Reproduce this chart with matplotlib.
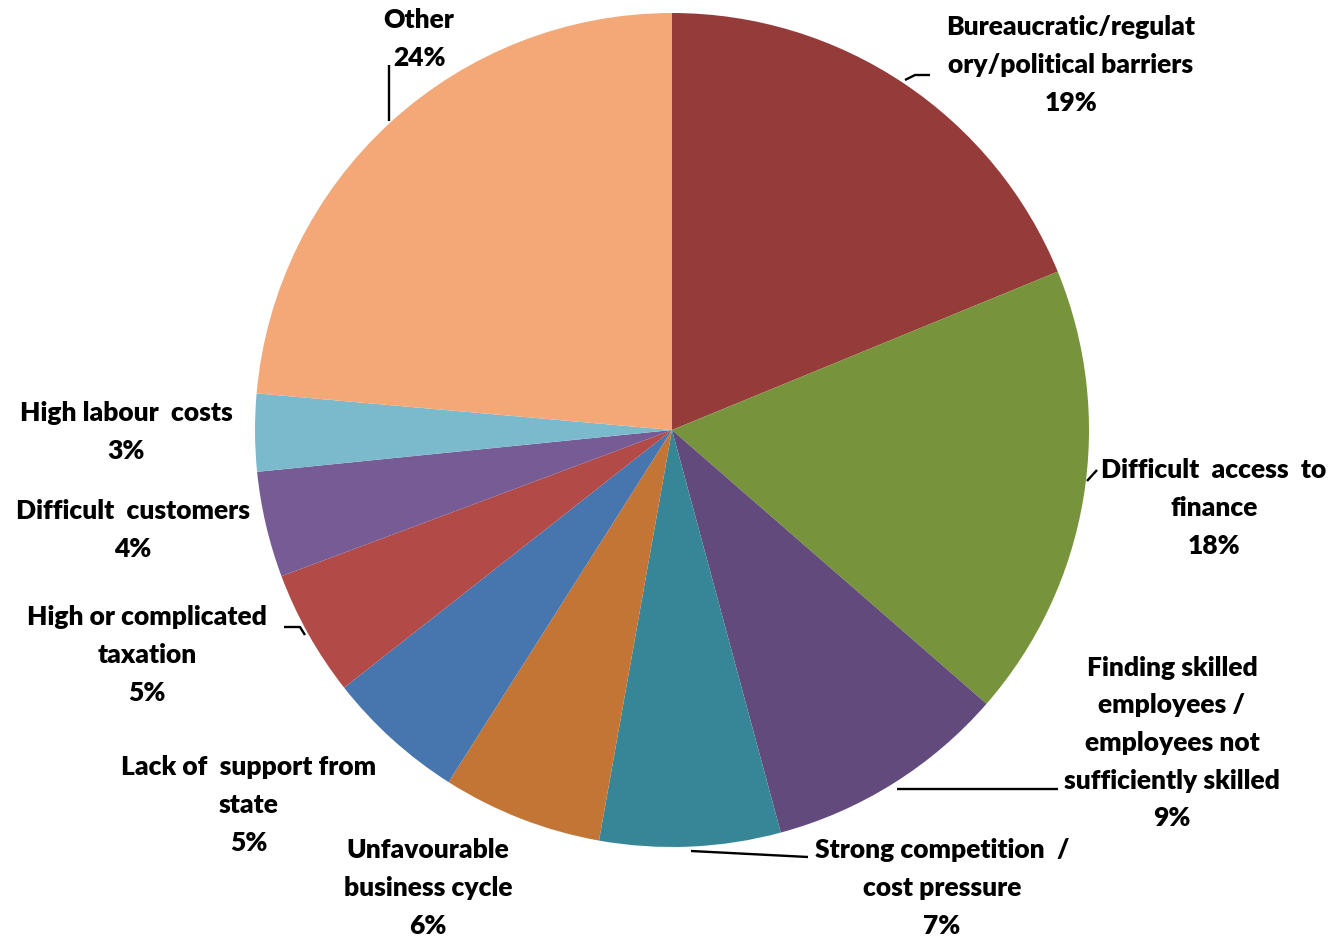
import matplotlib
matplotlib.use("Agg")
import matplotlib.pyplot as plt

# ---- data ----
categories = [
    "Bureaucratic/regulat\nory/political barriers",
    "Difficult  access  to\nfinance",
    "Finding skilled\nemployees /\nemployees not\nsufficiently skilled",
    "Strong competition  /\ncost pressure",
    "Unfavourable\nbusiness cycle",
    "Lack of  support from\nstate",
    "High or complicated\ntaxation",
    "Difficult  customers",
    "High labour  costs",
    "Other",
]
values = [18.8, 17.6, 9.4, 7.0, 6.2, 5.4, 4.9, 4.1, 3.0, 23.6]
colors = ["#953C3B", "#77933C", "#624B7C", "#378698", "#C37535",
          "#4775AD", "#B24A48", "#775B95", "#7BBACD", "#F4A878"]

W, H = 1328, 937
fig = plt.figure(figsize=(W / 100, H / 100), dpi=100)
ax = fig.add_axes([0, 0, 1, 1])

def P(x, y):
    return x, H - y

cx, cy = P(672, 431)
ax.pie(values, colors=colors, startangle=90, counterclock=False,
       center=(cx, cy), radius=417, frame=True,
       wedgeprops=dict(linewidth=0))
ax.set_xlim(0, W)
ax.set_ylim(0, H)
ax.set_aspect("equal")
ax.axis("off")

# label layout: (center x, center y of block) in pixel coords
label_pos = [
    (1071, 65),
    (1214, 508),
    (1172, 743),
    (942, 888),
    (428, 888),
    (249, 805),
    (147, 655),
    (133, 530),
    (126, 432),
    (419, 39),
]

total = sum(values)
for cat, v, (lx, ly) in zip(categories, values, label_pos):
    txt = f"{cat}\n{round(v / total * 100):.0f}%"
    x, y = P(lx, ly)
    ax.text(x, y, txt, ha="center", va="center", fontsize=19,
            fontweight="heavy", family=["Lato", "DejaVu Sans"],
            linespacing=1.68, color="black")

# leader lines (pixel coords)
leaders = [
    [(905, 81), (915, 76), (930, 76)],
    [(1087, 482), (1097, 471)],
    [(897, 790), (1058, 790)],
    [(691, 852), (808, 858)],
    [(305, 636), (300, 628), (284, 628)],
    [(389, 122), (389, 66)],
]
for seg in leaders:
    xs, ys = zip(*[P(a, b) for a, b in seg])
    ax.plot(xs, ys, color="black", lw=1.7, solid_capstyle="butt")

fig.savefig("out.png", dpi=100)
